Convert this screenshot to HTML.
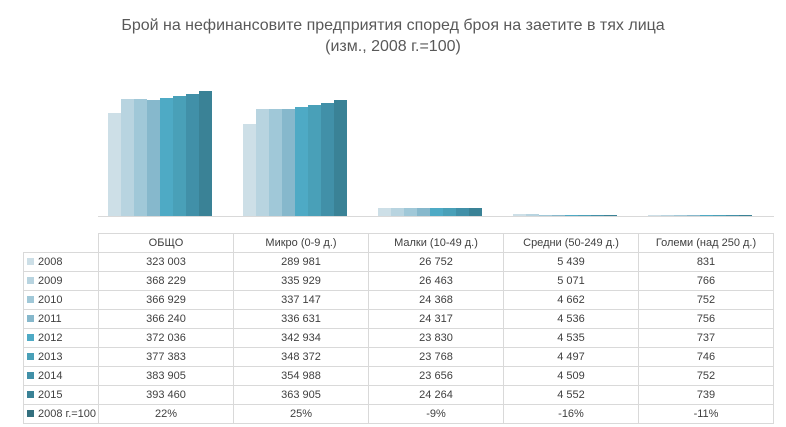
<!DOCTYPE html>
<html><head><meta charset="utf-8"><style>
body{margin:0;width:786px;height:427px;background:#fff;position:relative;overflow:hidden;font-family:"Liberation Sans","DejaVu Sans",sans-serif;color:#404040}
.t{position:absolute;left:0;width:786px;text-align:center;font-size:16px;color:#595959}
.b{position:absolute}
table{position:absolute;left:23px;top:233px;border-collapse:collapse;font-size:11px;color:#404040}
td{border:1px solid #d9d9d9;height:18px;padding:0;text-align:center;width:134px}
td.l{width:71px;text-align:left;padding-left:3px}
.s{display:inline-block;width:7px;height:7px;margin-right:4px}
</style></head><body>
<div class="t" style="top:17px">Брой на нефинансовите предприятия според броя на заетите в тях лица</div>
<div class="t" style="top:38px">(изм., 2008 г.=100)</div>
<div class="b" style="left:98px;top:216px;width:676px;height:1px;background:#d9d9d9"></div>
<div id="bars"></div>
<table>
<tr><td style="border:none;border-right:1px solid #d9d9d9;border-bottom:1px solid #d9d9d9" class="l"></td><td>ОБЩО</td><td>Микро (0-9 д.)</td><td>Малки (10-49 д.)</td><td>Средни (50-249 д.)</td><td>Големи (над 250 д.)</td></tr>
<tbody id="tb"></tbody>
</table>
<script>
var cols=["#cddfe7","#b8d4e0","#a0c8d8","#86b8cc","#4eaac5","#49a0b8","#4190a8","#3a8296","#33707f"];
var names=["2008","2009","2010","2011","2012","2013","2014","2015","2008 г.=100"];
var d=[[323003,289981,26752,5439,831],[368229,335929,26463,5071,766],[366929,337147,24368,4662,752],[366240,336631,24317,4536,756],[372036,342934,23830,4535,737],[377383,348372,23768,4497,746],[383905,354988,23656,4509,752],[393460,363905,24264,4552,739],[22,25,-9,-16,-11]];
var h="",t="";
for(var s=0;s<9;s++){for(var c=0;c<5;c++){var v=d[s][c];var hh=Math.max(0,v*125/393460);if(hh<0.6&&s<8)hh=0.8;var x=108+c*135+s*13;
if(hh>0)h+='<div class="b" style="left:'+x+'px;top:'+(216-hh)+'px;width:13px;height:'+hh+'px;background:'+cols[s]+'"></div>';}
t+='<tr><td class="l"><span class="s" style="background:'+cols[s]+'"></span>'+names[s]+'</td>';
for(var c=0;c<5;c++){var v=d[s][c];var str=s==8?v+'%':String(v).replace(/\B(?=(\d{3})+(?!\d))/g,' ');t+='<td>'+str+'</td>';}
t+='</tr>';}
document.getElementById("bars").innerHTML=h;document.getElementById("tb").innerHTML=t;
</script>
</body></html>
